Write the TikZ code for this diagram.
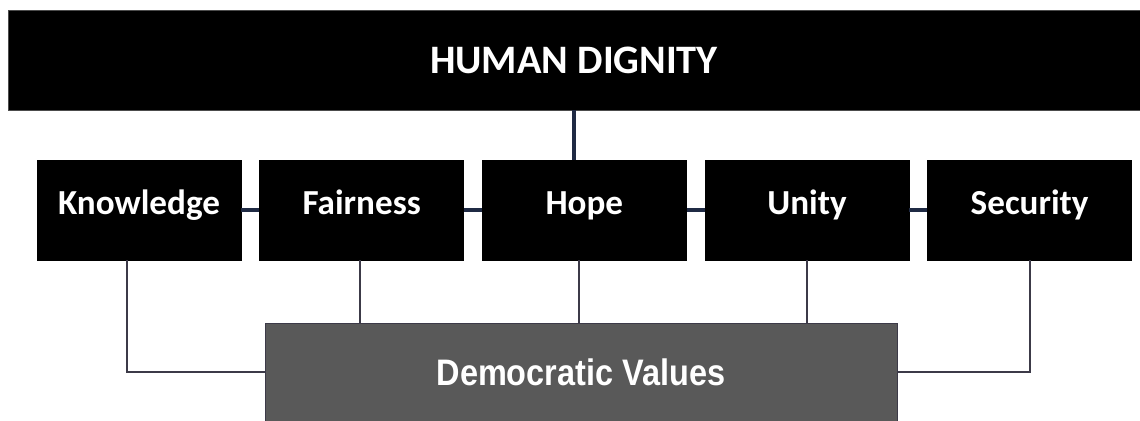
\documentclass[tikz,border=0pt]{standalone}
\usepackage{fontspec}
\setmainfont{Carlito}
\newfontfamily\narrowfont[FakeStretch=0.88]{Liberation Sans}
\usetikzlibrary{positioning}

\definecolor{navyline}{HTML}{1F2A44}
\definecolor{greyline}{HTML}{3C3A48}
\definecolor{dvgrey}{HTML}{595959}

\tikzset{
  valuebox/.style={draw=black, fill=black, text=white, minimum width=4.08cm,
    minimum height=2cm, inner sep=0pt, text height=1.45ex, text depth=0.45ex,
    font=\bfseries\fontsize{20}{24}\selectfont},
  navylink/.style={draw=navyline, line width=2.3pt},
  greylink/.style={draw=greyline, line width=1.1pt}
}

\begin{document}
\begin{tikzpicture}[x=0.02cm, y=0.02cm, node distance=0.36cm]
    \useasboundingbox (0,0) rectangle (1140,421);
    \node[draw=black!70, fill=black, text=white, minimum width=22.64cm, minimum height=2cm,
      inner sep=0pt, font=\bfseries\fontsize{23}{27}\selectfont] (hd) at (574,361) {HUMAN DIGNITY};
    \node[valuebox] (know) at (139,211) {Knowledge};
    \node[valuebox] (fair) [right=of know] {Fairness};
    \node[valuebox] (hope) [right=of fair] {Hope};
    \node[valuebox] (unity) [right=of hope] {Unity};
    \node[valuebox] (secu) [right=of unity] {Security};
    \node[draw=greyline, fill=dvgrey, text=white, minimum width=12.64cm, minimum height=1.96cm,
      inner sep=0pt, font=\narrowfont\bfseries\fontsize{21}{25}\selectfont] (dv) at (581,49) {Democratic Values};
    % links
    \draw[navylink, line width=1.8pt] (hd.south) -- (hd.south |- hope.north);
    \path[navylink]
    (know) edge (fair)
    (fair) edge (hope)
    (hope) edge (unity)
    (unity) edge (secu);
    \draw[greylink] ([xshift=-0.24cm]know.south) |- (dv.west);
    \draw[greylink] ([xshift=-0.04cm]fair.south) -- ([xshift=-0.04cm]fair.south |- dv.north);
    \draw[greylink] ([xshift=-0.1cm]hope.south) -- ([xshift=-0.1cm]hope.south |- dv.north);
    \draw[greylink] (unity.south) -- (unity.south |- dv.north);
    \draw[greylink] (secu.south) |- (dv.east);
  \end{tikzpicture}
\end{document}
